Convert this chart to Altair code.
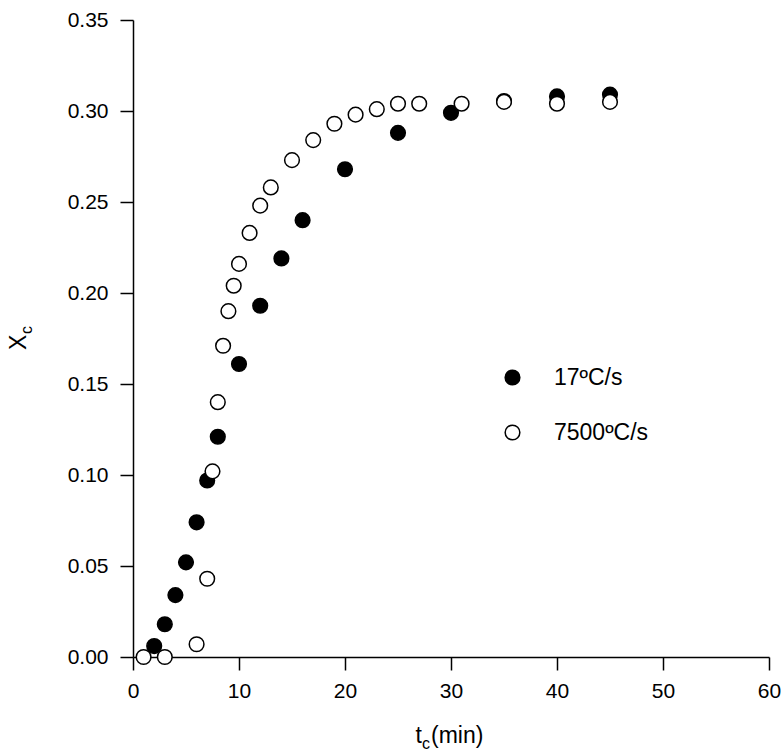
import altair as alt
import pandas as pd

# ---- data ----
t_17 = [2, 3, 4, 5, 6, 7, 8, 10, 12, 14, 16, 20, 25, 30, 35, 40, 45]
x_17 = [0.006, 0.018, 0.034, 0.052, 0.074, 0.097, 0.121, 0.161, 0.193, 0.219,
        0.240, 0.268, 0.288, 0.299, 0.3055, 0.308, 0.309]

t_7500 = [1, 3, 6, 7, 7.5, 8, 8.5, 9, 9.5, 10, 11, 12, 13, 15, 17, 19, 21, 23,
          25, 27, 31, 35, 40, 45]
x_7500 = [0.0, 0.0, 0.007, 0.043, 0.102, 0.140, 0.171, 0.190, 0.204, 0.216,
          0.233, 0.248, 0.258, 0.273, 0.284, 0.293, 0.298, 0.301, 0.304, 0.304,
          0.304, 0.305, 0.304, 0.305]

series_names = ["17ºC/s", "7500ºC/s"]
x_ticks = [0, 10, 20, 30, 40, 50, 60]
y_ticks = [0.0, 0.05, 0.10, 0.15, 0.20, 0.25, 0.30, 0.35]

df = pd.DataFrame({
    "t": t_17 + t_7500,
    "X": x_17 + x_7500,
    "series": [series_names[0]] * len(t_17) + [series_names[1]] * len(t_7500),
})

FONT = "Liberation Sans"
W, H = 636, 637

points = alt.Chart(df).mark_point(
    shape="circle", filled=True, size=215, stroke="black", strokeWidth=1.5,
    opacity=1, fillOpacity=1, clip=False
).encode(
    x=alt.X("t:Q", scale=alt.Scale(domain=[0, 60], nice=False, zero=False),
            axis=alt.Axis(values=x_ticks, title=None, grid=False, format="d",
                          labelFlush=False)),
    y=alt.Y("X:Q", scale=alt.Scale(domain=[0, 0.35], nice=False),
            axis=alt.Axis(values=y_ticks, title=None, grid=False, format=".2f",
                          labelFlush=False)),
    fill=alt.Fill("series:N",
                  scale=alt.Scale(domain=series_names, range=["black", "white"]),
                  legend=alt.Legend(title=None, orient="none", legendX=368,
                                    legendY=346, symbolType="circle",
                                    symbolSize=215, symbolStrokeColor="black",
                                    symbolStrokeWidth=1.5, labelFont=FONT,
                                    labelFontSize=23, labelColor="black",
                                    labelOffset=30, rowPadding=31, padding=0)),
    stroke=alt.value("black"),
    order=alt.Order("ord:Q"),
).transform_calculate(ord="datum.series == '17ºC/s' ? 0 : 1")

# axis titles with subscripts
tx = alt.Chart(pd.DataFrame({"s": ["t"]})).mark_text(
    font=FONT, fontSize=23, align="right", baseline="alphabetic", color="black"
).encode(text="s:N", x=alt.value(289), y=alt.value(723))
tc = alt.Chart(pd.DataFrame({"s": ["c"]})).mark_text(
    font=FONT, fontSize=16, align="left", baseline="alphabetic", color="black"
).encode(text="s:N", x=alt.value(289), y=alt.value(729))
tmin = alt.Chart(pd.DataFrame({"s": ["(min)"]})).mark_text(
    font=FONT, fontSize=23, align="left", baseline="alphabetic", color="black"
).encode(text="s:N", x=alt.value(298), y=alt.value(723))

yX = alt.Chart(pd.DataFrame({"s": ["X"]})).mark_text(
    font=FONT, fontSize=23, align="left", baseline="alphabetic", angle=270,
    color="black"
).encode(text="s:N", x=alt.value(-107), y=alt.value(330))
yc = alt.Chart(pd.DataFrame({"s": ["c"]})).mark_text(
    font=FONT, fontSize=16, align="left", baseline="alphabetic", angle=270,
    color="black"
).encode(text="s:N", x=alt.value(-101), y=alt.value(314))

chart = alt.layer(points, tx, tc, tmin, yX, yc).properties(
    width=W, height=H,
    autosize=alt.AutoSizeParams(type="none"),
    padding={"left": 133, "top": 20, "right": 14, "bottom": 97},
    background="white",
).configure_view(stroke=None).configure_axis(
    domainColor="black", domainWidth=1.5, tickColor="black", tickWidth=1.5,
    tickSize=13, labelFont=FONT, labelFontSize=21, labelColor="black",
    labelPadding=10
).configure_axisY(labelPadding=12)

chart.save("out.html", embed_options={"renderer": "svg", "actions": False})
